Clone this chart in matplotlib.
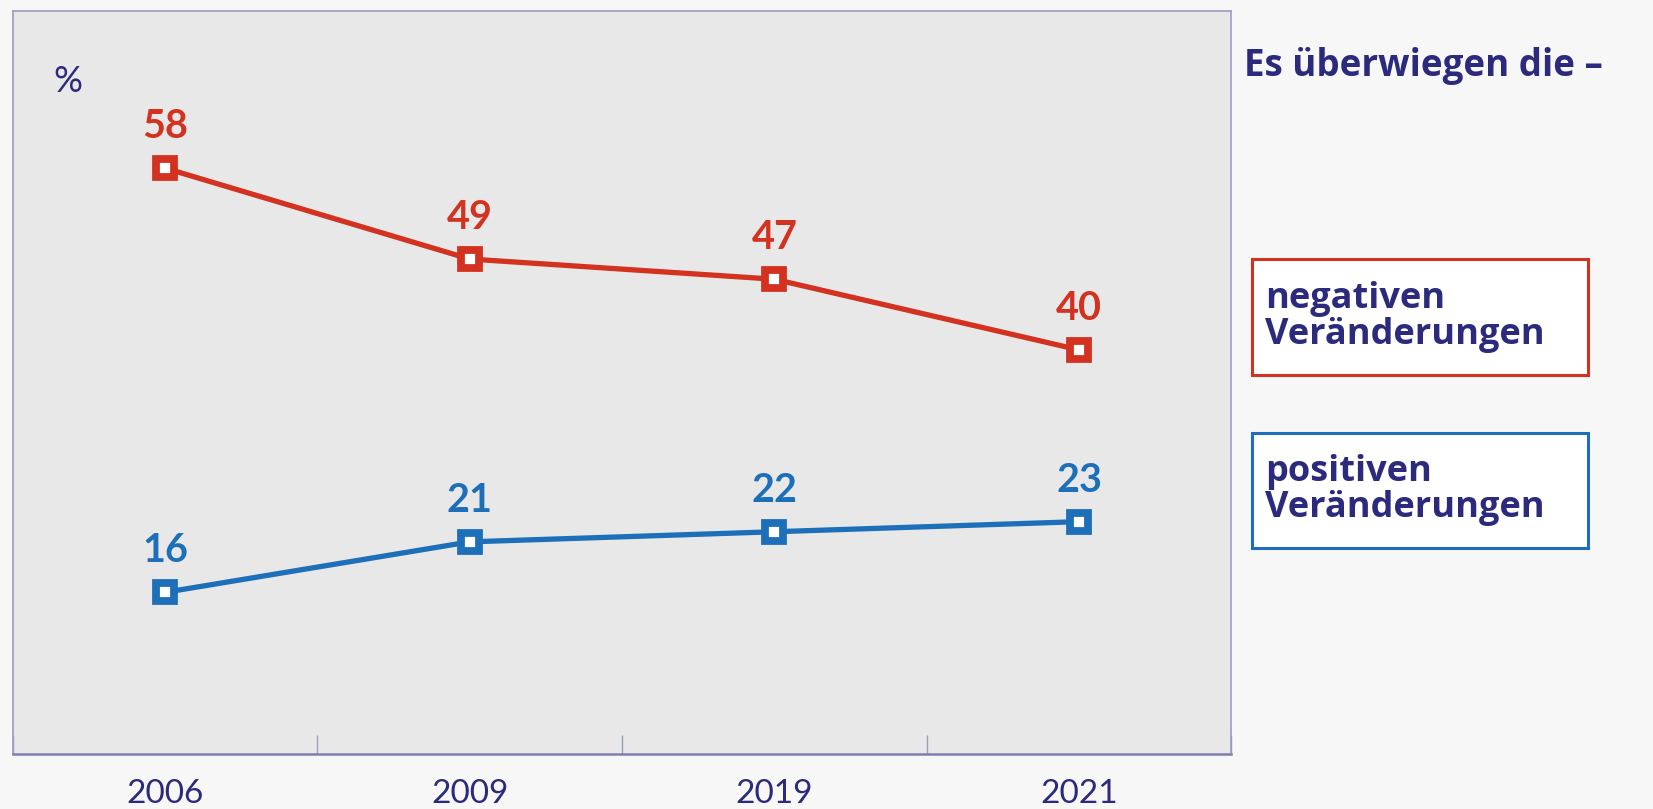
import matplotlib.pyplot as plt
from matplotlib.patches import Rectangle

years = ["2006", "2009", "2019", "2021"]
negative = [58, 49, 47, 40]
positive = [16, 21, 22, 23]

title_text = "Es überwiegen die –"
neg_label = "negativen\nVeränderungen"
pos_label = "positiven\nVeränderungen"

red = "#d2321f"
blue = "#1c6fb8"
navy = "#2b2a7c"
frame = "#9c9cc0"

plt.rcParams['font.family'] = ['Lato', 'DejaVu Sans']

fig = plt.figure(figsize=(16.53, 8.09), dpi=100, facecolor="#f7f7f7")
ax = fig.add_axes([0.0076, 0.068, 0.7374, 0.919])
ax.set_facecolor("#e9e8e9")

x = list(range(len(years)))
for vals, col in [(negative, red), (positive, blue)]:
    ax.plot(x, vals, color=col, lw=3.8, marker="s", ms=13.5, mew=5.6,
            mec=col, mfc="white", zorder=3)
    for xi, v in zip(x, vals):
        ax.annotate(str(v), (xi, v), xytext=(0, 30), textcoords="offset pixels",
                    ha="center", va="baseline", color=col, fontsize=28.5,
                    fontweight="bold")

ax.set_xlim(-0.5, 3.5)
ax.set_ylim(0, 73.6)
ax.set_yticks([])
ax.set_xticks(x)
ax.set_xticklabels(years, color=navy, fontsize=24)
ax.tick_params(axis="x", which="major", length=0, pad=18)
ax.set_xticks([-0.5, 0.5, 1.5, 2.5, 3.5], minor=True)
ax.tick_params(axis="x", which="minor", direction="in", length=14,
               color=frame, width=1)
for s in ax.spines.values():
    s.set_color(frame)
    s.set_linewidth(1.2)
ax.spines["bottom"].set_color("#7f7fb0")
ax.spines["bottom"].set_linewidth(1.8)

ax.text(0.045, 0.905, "%", transform=ax.transAxes, ha="center", va="center",
        color=navy, fontsize=26)

# right-hand annotation
side = ['Open Sans', 'DejaVu Sans']
fig.text(1244 / 1653, 1 - 66 / 809, title_text, ha="left", va="center",
         color=navy, fontsize=26.5, fontweight="bold", family=side)

boxes = [(259, 375, red, neg_label), (433, 548, blue, pos_label)]
for top, bottom, col, label in boxes:
    x0, x1 = 1252 / 1653, 1588 / 1653
    y0, y1 = 1 - bottom / 809, 1 - top / 809
    fig.add_artist(Rectangle((x0, y0), x1 - x0, y1 - y0, transform=fig.transFigure,
                             facecolor="white", edgecolor=col, lw=2.2))
    fig.text(1265 / 1653, (y0 + y1) / 2, label, ha="left", va="center",
             color=navy, fontsize=26, fontweight="bold", family=side,
             linespacing=1.0)

fig.savefig("out.png", dpi=100, facecolor=fig.get_facecolor())
